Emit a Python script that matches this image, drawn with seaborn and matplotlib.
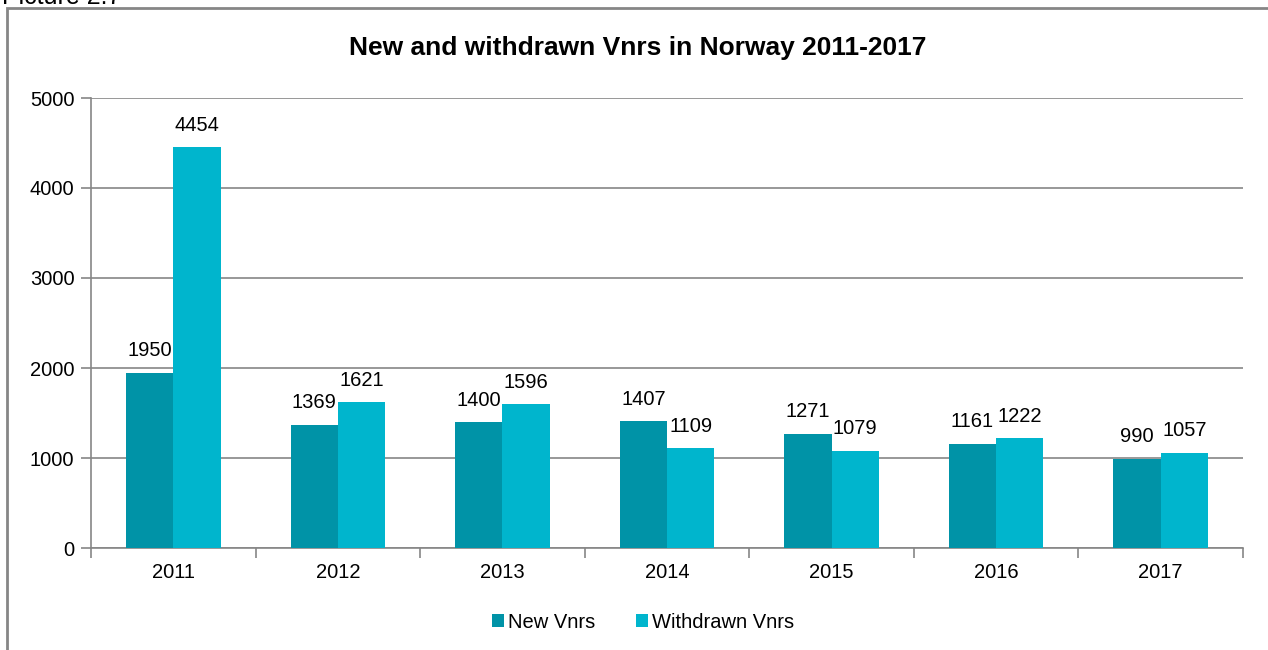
import pandas as pd
import matplotlib.pyplot as plt
import seaborn as sns
from matplotlib.patches import Rectangle

years = ['2011', '2012', '2013', '2014', '2015', '2016', '2017']
new_vnrs = [1950, 1369, 1400, 1407, 1271, 1161, 990]
withdrawn_vnrs = [4454, 1621, 1596, 1109, 1079, 1222, 1057]

df = pd.DataFrame({
    'year': years * 2,
    'count': new_vnrs + withdrawn_vnrs,
    'series': ['New Vnrs'] * len(years) + ['Withdrawn Vnrs'] * len(years),
})

sns.set_theme(style='white')
plt.rcParams['font.family'] = ['Liberation Sans', 'DejaVu Sans']
plt.rcParams['text.color'] = 'black'
plt.rcParams['xtick.color'] = 'black'
plt.rcParams['ytick.color'] = 'black'

fig = plt.figure(figsize=(12.68, 6.5), dpi=100)
ax = fig.add_axes([91 / 1268, 102 / 650, 1152 / 1268, 450 / 650])

grey = '#868686'
colors = ['#0093A7', '#00B5CD']
sns.barplot(data=df, x='year', y='count', hue='series', palette=colors,
            width=0.574, gap=0, saturation=1, linewidth=0, ax=ax, zorder=3)

for cont in ax.containers:
    ax.bar_label(cont, fmt='%d', padding=9, fontsize=14.5, color='black')

ax.set_ylim(0, 5000)
ax.set_xlim(-0.5, 6.5)
ax.set_yticks(range(0, 5001, 1000))
ax.yaxis.grid(True, color=grey, linewidth=1.2, zorder=0)
ax.set_xlabel('')
ax.set_ylabel('')

# category boundary ticks on x axis
ax.set_xticks([i - 0.5 for i in range(8)], minor=True)
ax.tick_params(axis='x', which='minor', length=7, width=1.2, color=grey,
               direction='out', bottom=True)
ax.tick_params(axis='x', which='major', length=0, labelsize=14.5, pad=11, bottom=False)
ax.tick_params(axis='y', length=7, width=1.2, color=grey, direction='out',
               labelsize=14.5, pad=5, left=True, labelcolor='black')
ax.tick_params(axis='x', labelcolor='black')

for s in ['top', 'right']:
    ax.spines[s].set_visible(False)
for s in ['left', 'bottom']:
    ax.spines[s].set_color(grey)
    ax.spines[s].set_linewidth(1.2)

handles, labels = ax.get_legend_handles_labels()
leg = ax.legend(handles, labels, loc='center', bbox_to_anchor=(643 / 1268, 28 / 650),
                bbox_transform=fig.transFigure, ncol=2, frameon=False, fontsize=14.5,
                handlelength=0.6, handleheight=0.6, handletextpad=0.2, columnspacing=2.0)
for t in leg.get_texts():
    t.set_color('black')

fig.text(638 / 1268, 1 - 48 / 650, 'New and withdrawn Vnrs in Norway 2011-2017',
         ha='center', va='center', fontsize=19, fontweight='bold', color='black')

fig.text(2 / 1268, 1 - 4 / 650, 'Picture 2.7', ha='left', va='baseline', fontsize=18,
         color='black')

fig.patches.append(Rectangle((7 / 1268, -0.05), 1.2, 1 - 8 / 650 + 0.05,
                             transform=fig.transFigure, fill=False,
                             edgecolor=grey, linewidth=2, zorder=0))

fig.savefig('out.png', dpi=100)
